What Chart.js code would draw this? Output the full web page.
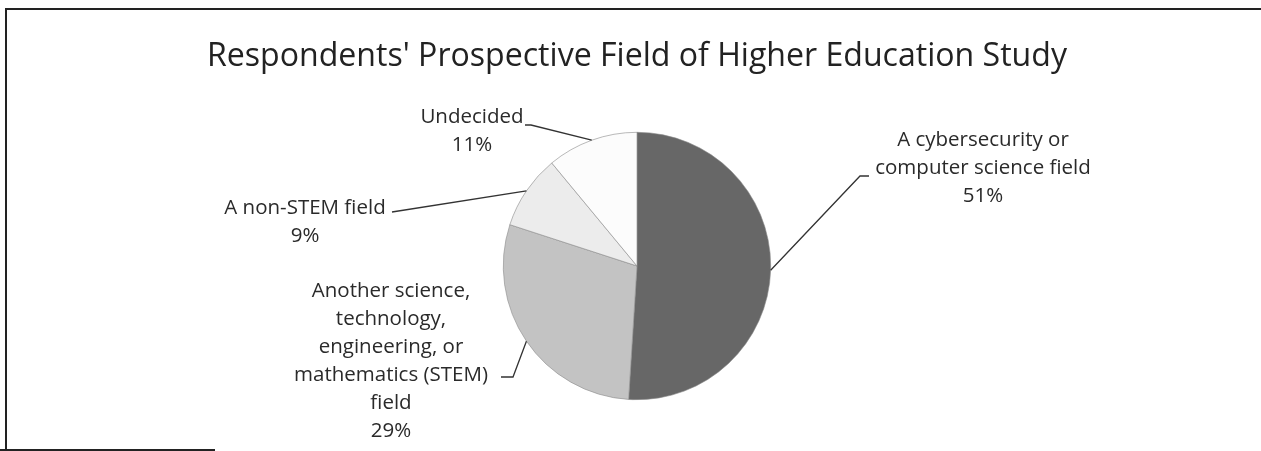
<!DOCTYPE html>
<html>
<head>
<meta charset="utf-8">
<script src="https://cdn.jsdelivr.net/npm/chart.js@4.4.1/dist/chart.umd.min.js"></script>
<style>
  html, body { margin: 0; padding: 0; background: #fff; }
  #wrap { position: relative; width: 1261px; height: 451px; }
</style>
</head>
<body>
<div id="wrap"><canvas id="pieChart" width="1261" height="451"></canvas></div>
<script>
// data
const chartTitle = "Respondents' Prospective Field of Higher Education Study";
const categories = [
    'A cybersecurity or computer science field',
    'Another science, technology, engineering, or mathematics (STEM) field',
    'A non-STEM field',
    'Undecided'
];
const shares = [51, 29, 9, 11];
const sliceColors = ['#676767', '#c3c3c3', '#ececec', '#fcfcfc'];

// how each label is wrapped and where it sits (text centre x, first line y, elbow of leader)
const labelLines = [
    ['A cybersecurity or', 'computer science field'],
    ['Another science,', 'technology,', 'engineering, or', 'mathematics (STEM)', 'field'],
    ['A non-STEM field'],
    ['Undecided']
];
const labelSpots = [
    { x: 983, y: 140, elbow: [860, 176], end: [869, 176] },
    { x: 391, y: 291, elbow: [513, 377], end: [501, 377] },
    { x: 305, y: 208, elbow: [392, 212], end: [392, 212] },
    { x: 472, y: 117, elbow: [531, 125], end: [525, 125] }
];

const lineH = 28;

const framePlugin = {
    id: 'frame',
    beforeDraw(chart) {
        const ctx = chart.ctx;
        ctx.save();
        ctx.strokeStyle = '#222';
        ctx.lineWidth = 2;
        ctx.beginPath();
        ctx.moveTo(6, 451);
        ctx.lineTo(6, 9);
        ctx.lineTo(1261, 9);
        ctx.stroke();
        ctx.beginPath();
        ctx.moveTo(0, 450);
        ctx.lineTo(215, 450);
        ctx.stroke();
        ctx.restore();
    }
};

const labelPlugin = {
    id: 'sliceLabels',
    afterDatasetsDraw(chart) {
        const ctx = chart.ctx;
        const arcs = chart.getDatasetMeta(0).data;
        ctx.save();

        // title, sized to span the same width as in the original
        ctx.fillStyle = '#222';
        ctx.textAlign = 'center';
        ctx.textBaseline = 'middle';
        ctx.font = '30px "Open Sans", sans-serif';
        const size = 30 * 861 / ctx.measureText(chartTitle).width;
        ctx.font = size.toFixed(1) + 'px "Open Sans", sans-serif';
        ctx.fillText(chartTitle, 637, 57);

        ctx.font = '20.5px "Open Sans", sans-serif';
        ctx.fillStyle = '#2a2a2a';
        ctx.strokeStyle = '#333';
        ctx.lineWidth = 1.3;
        arcs.forEach((arc, i) => {
            const p = arc.getProps(['x', 'y', 'startAngle', 'endAngle', 'outerRadius'], true);
            const mid = (p.startAngle + p.endAngle) / 2;
            const ax = p.x + Math.cos(mid) * p.outerRadius;
            const ay = p.y + Math.sin(mid) * p.outerRadius;
            const s = labelSpots[i];
            ctx.beginPath();
            ctx.moveTo(ax, ay);
            ctx.lineTo(s.elbow[0], s.elbow[1]);
            ctx.lineTo(s.end[0], s.end[1]);
            ctx.stroke();
            const lines = labelLines[i].concat([shares[i] + '%']);
            lines.forEach((t, k) => ctx.fillText(t, s.x, s.y + k * lineH));
        });
        ctx.restore();
    }
};

const ctx = document.getElementById('pieChart').getContext('2d');
const pieChart = new Chart(ctx, {
    type: 'pie',
    data: {
        labels: categories,
        datasets: [{
            data: shares,
            backgroundColor: sliceColors,
            borderColor: '#8a8a8a',
            borderWidth: 0.6
        }]
    },
    options: {
        responsive: false,
        animation: false,
        layout: {
            padding: { top: 132, bottom: 51, left: 503, right: 490 }
        },
        plugins: {
            legend: { display: false },
            tooltip: { enabled: false },
            title: { display: false }
        }
    },
    plugins: [framePlugin, labelPlugin]
});
</script>
</body>
</html>
